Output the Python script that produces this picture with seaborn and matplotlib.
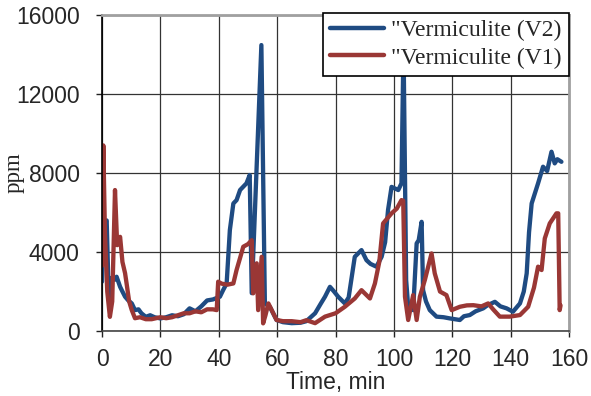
import numpy as np
import pandas as pd
import matplotlib
matplotlib.use("Agg")
import matplotlib.pyplot as plt
import seaborn as sns

# V2 series (blue)
t_v2 = [0, 0.5, 1.0, 1.6, 2.2, 2.8, 3.4, 4.4, 5.0, 6.2, 7.0, 7.9, 9.0, 10.2, 11.3,
        12.5, 13.5, 15.0, 16.5, 18, 20, 22, 24, 26, 28, 30, 32, 34, 36, 38, 40.4,
        41.5, 42.7, 43.8, 45, 46.1, 47.3, 49.5, 50.6, 51.3, 54.6, 55.8, 57.5,
        59.8, 62, 65, 68, 70, 73, 75, 76.4, 78.1, 79.5, 80.9, 83.2, 84.5, 86.6,
        88.9, 90.6, 92, 94, 95.8, 97, 98, 99.2, 101.5, 102.6, 103.3, 104.2, 104.9,
        106.6, 107.8, 108.5, 109.5, 110, 111, 112.3, 114.6, 117, 119.2, 122.6,
        124, 126, 128, 130.6, 132, 134.6, 136.5, 138.6, 140.8, 143.2, 144.5,
        145.5, 146.3, 147.2, 149.4, 151.1, 152.5, 154, 155.1, 156, 157.4]
ppm_v2 = [2500, 5600, 5500, 5600, 2300, 1500, 2700, 2600, 2750, 2240, 2000, 1740,
          1550, 1400, 1060, 1100, 900, 720, 800, 700, 640, 700, 800, 750, 850,
          1150, 1000, 1250, 1550, 1600, 1740, 2075, 2410, 5110, 6460, 6630, 7140,
          7480, 7900, 1920, 14480, 1400, 1230, 560, 450, 400, 420, 500, 900, 1400,
          1740, 2240, 2000, 1740, 1400, 1700, 3760, 4100, 3590, 3400, 3260, 3760,
          4500, 6130, 7300, 7140, 7480, 14500, 2580, 1230, 1060, 4440, 4600, 5530,
          2070, 1500, 1060, 730, 700, 640, 560, 750, 810, 1000, 1150, 1300, 1480,
          1250, 1150, 980, 1400, 2000, 2920, 5000, 6460, 7480, 8320, 8100, 9080,
          8490, 8700, 8570]

# V1 series (red)
t_v1 = [0, 0.45, 1.0, 1.8, 2.7, 3.5, 4.45, 5.2, 6.2, 7.0, 7.9, 8.4, 9.3, 10.2,
        11.3, 13, 15, 17, 20, 22, 24, 26, 28, 30, 32, 34, 36, 38, 39.3, 39.8, 41,
        43, 45, 46.1, 47.3, 48.4, 50, 51.3, 51.8, 53, 53.5, 54.7, 55.2, 56, 57,
        59.8, 62, 65, 68, 70, 73, 76.4, 80, 83.2, 86.6, 88.9, 91.8, 93.5, 95,
        96.3, 99.2, 101, 102.6, 103.2, 103.8, 104.9, 106.6, 107.8, 108.9, 110.6,
        112.9, 114, 115.8, 118, 119.8, 122.6, 125, 127.2, 130, 132.3, 134, 136.3,
        139.7, 143.2, 146, 148, 149.4, 150.6, 151.7, 153.4, 155.7, 156.3, 156.8,
        157.1]
ppm_v1 = [3300, 9400, 5000, 2000, 720, 1500, 7140, 4350, 4770, 3500, 2930, 2430,
          1500, 1060, 650, 700, 600, 600, 700, 650, 700, 800, 900, 900, 1000, 950,
          1100, 1100, 1060, 2500, 2400, 2350, 2410, 3090, 3700, 4270, 4400, 4600,
          1910, 3430, 1060, 3760, 390, 800, 1400, 560, 500, 500, 450, 550, 400,
          730, 900, 1230, 1650, 2070, 1650, 2410, 3500, 5450, 5960, 6200, 6630,
          6600, 1740, 560, 1820, 560, 1740, 2580, 3930, 2920, 2000, 1820, 1060,
          1230, 1300, 1310, 1250, 1400, 1100, 730, 730, 810, 1230, 2200, 3260,
          3090, 4690, 5450, 5960, 5960, 1060, 1300]

labels = ['"Vermiculite (V2)', '"Vermiculite (V1)']
colors = ['#1f4b82', '#9a3735']

x_ticks = [0, 20, 40, 60, 80, 100, 120, 140, 160]
y_ticks = [0, 4000, 8000, 12000, 16000]

df = pd.concat([
    pd.DataFrame({'Time': t_v2, 'ppm': ppm_v2, 'series': labels[0]}),
    pd.DataFrame({'Time': t_v1, 'ppm': ppm_v1, 'series': labels[1]}),
])

sns.set_style("white")
plt.rcParams['font.family'] = ['Liberation Sans', 'DejaVu Sans']

fig = plt.figure(figsize=(5.91, 3.96), dpi=100)
ax = fig.add_axes([0.1726, 0.164, 0.7902, 0.798])

sns.lineplot(data=df, x='Time', y='ppm', hue='series', palette=colors,
             linewidth=3.1, sort=False, estimator=None, ax=ax)

ax.set_xlim(0, 160)
ax.set_ylim(0, 16000)
ax.set_xticks(x_ticks)
ax.set_yticks(y_ticks)
ax.grid(True, color='#333333', linewidth=0.9)
ax.set_axisbelow(True)

ax.tick_params(axis='both', labelsize=16.5, direction='out', length=4,
               width=1.0, color='#222222', left=True, bottom=True)
ax.tick_params(axis='x', pad=8)
ax.tick_params(axis='y', pad=12)
for s in ['top', 'right']:
    ax.spines[s].set_color('#a0a0a0')
    ax.spines[s].set_linewidth(2.0)
ax.spines['left'].set_color('black')
ax.spines['left'].set_linewidth(1.2)
ax.spines['bottom'].set_color('#444444')
ax.spines['bottom'].set_linewidth(1.2)

ax.set_xlabel('Time, min', fontsize=16.5, labelpad=0)
ax.set_ylabel('ppm', fontsize=16.5, family=['Liberation Serif'])
ax.yaxis.set_label_coords(-0.165, 0.5)

leg = ax.legend(loc='upper right', bbox_to_anchor=(1.0, 1.008),
                prop={'family': 'Liberation Serif', 'size': 17},
                frameon=True, fancybox=False, framealpha=1, edgecolor='black',
                borderpad=0.3, labelspacing=0.25, handlelength=2.3,
                handletextpad=0.3, borderaxespad=0)
leg.get_frame().set_linewidth(1.2)
for line in leg.get_lines():
    line.set_linewidth(3.2)

fig.savefig('out.png', dpi=100)
